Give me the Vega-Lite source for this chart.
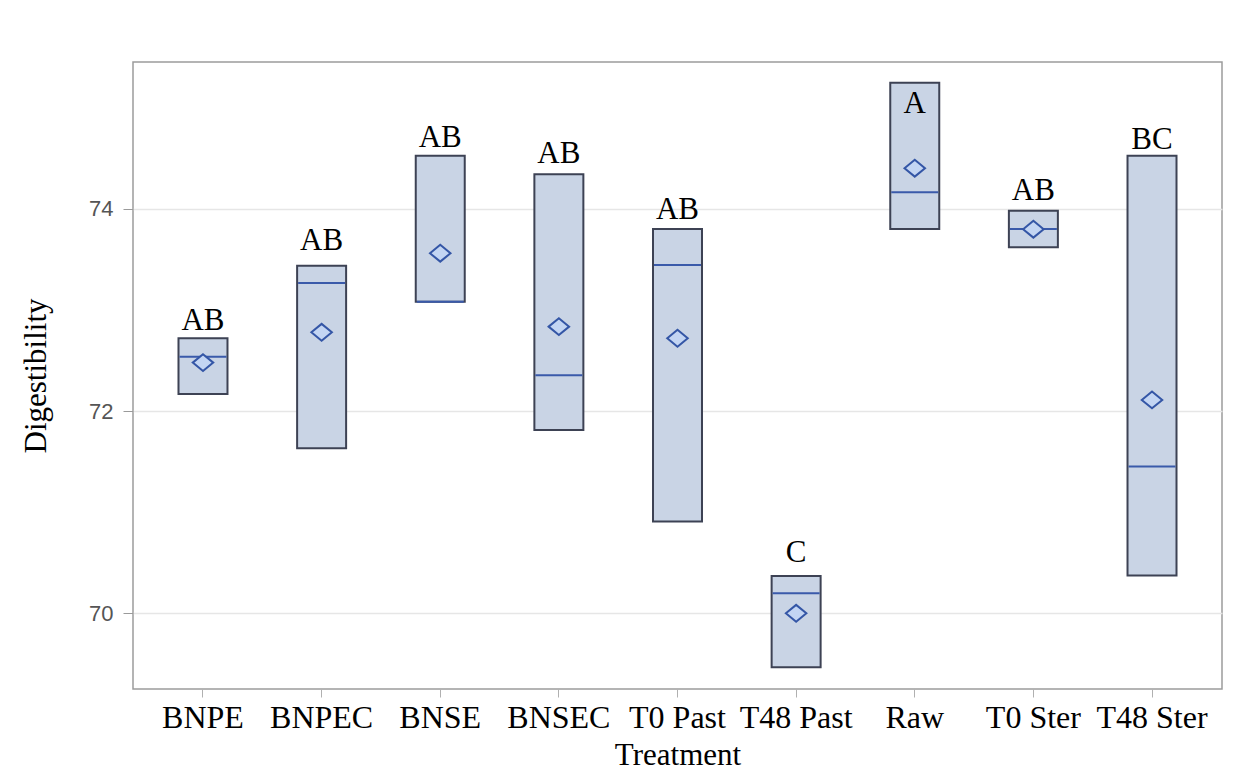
{
  "$schema": "https://vega.github.io/schema/vega-lite/v6.json",
  "width": 1089,
  "height": 627,
  "autosize": {"type": "none"},
  "padding": {"left": 133, "top": 62, "right": 16, "bottom": 94},
  "background": "white",
  "config": {
    "view": {"stroke": "#9c9c9c", "strokeWidth": 1.5},
    "axis": {"domain": false}
  },
  "data": {
    "values": [
      {"Treatment": "BNPE", "low": 72.170, "high": 72.721, "median": 72.539, "mean": 72.480, "letter": "AB", "letterAt": 72.80},
      {"Treatment": "BNPEC", "low": 71.633, "high": 73.439, "median": 73.268, "mean": 72.780, "letter": "AB", "letterAt": 73.594},
      {"Treatment": "BNSE", "low": 73.083, "high": 74.527, "median": 73.083, "mean": 73.562, "letter": "AB", "letterAt": 74.613},
      {"Treatment": "BNSEC", "low": 71.814, "high": 74.343, "median": 72.355, "mean": 72.836, "letter": "AB", "letterAt": 74.455},
      {"Treatment": "T0 Past", "low": 70.907, "high": 73.802, "median": 73.446, "mean": 72.721, "letter": "AB", "letterAt": 73.901},
      {"Treatment": "T48 Past", "low": 69.467, "high": 70.370, "median": 70.199, "mean": 70.0, "letter": "C", "letterAt": 70.508},
      {"Treatment": "Raw", "low": 73.802, "high": 75.249, "median": 74.165, "mean": 74.403, "letter": "A", "letterAt": 74.947},
      {"Treatment": "T0 Ster", "low": 73.621, "high": 73.983, "median": 73.802, "mean": 73.80, "letter": "AB", "letterAt": 74.089},
      {"Treatment": "T48 Ster", "low": 70.373, "high": 74.527, "median": 71.451, "mean": 72.111, "letter": "BC", "letterAt": 74.593}
    ]
  },
  "encoding": {
    "x": {
      "field": "Treatment",
      "type": "nominal",
      "sort": null,
      "scale": {"type": "band", "paddingInner": 0, "paddingOuter": 0.09},
      "axis": {
        "title": "Treatment",
        "labelAngle": 0,
        "labelFont": "Liberation Serif",
        "labelFontSize": 32,
        "labelColor": "#000000",
        "labelPadding": 5,
        "tickColor": "#b0b0b0",
        "tickSize": 8,
        "grid": false,
        "titleFont": "Liberation Serif",
        "titleFontSize": 31,
        "titleFontWeight": "normal",
        "titleColor": "#000000",
        "titlePadding": 7
      }
    }
  },
  "layer": [
    {
      "mark": {"type": "bar", "width": {"band": 0.413}, "fill": "#c9d4e5", "stroke": "#3d4254", "strokeWidth": 2},
      "encoding": {
        "y": {
          "field": "high",
          "type": "quantitative",
          "scale": {"domain": [69.251, 75.454], "nice": false, "zero": false},
          "axis": {
            "title": "Digestibility",
            "values": [70, 72, 74],
            "format": "d",
            "labelFont": "Liberation Sans",
            "labelFontSize": 22,
            "labelColor": "#555555",
            "labelPadding": 10,
            "tickColor": "#9a9a9a",
            "tickSize": 10,
            "grid": true,
            "gridColor": "#e6e6e6",
            "gridWidth": 1.5,
            "titleFont": "Liberation Serif",
            "titleFontSize": 31,
            "titleFontWeight": "normal",
            "titleColor": "#000000",
            "titlePadding": 36
          }
        },
        "y2": {"field": "low"}
      }
    },
    {
      "mark": {"type": "tick", "orient": "horizontal", "size": 47, "thickness": 2, "color": "#3a5aaa", "opacity": 1},
      "encoding": {
        "y": {"field": "median", "type": "quantitative"}
      }
    },
    {
      "mark": {"type": "point", "shape": "M-1,0L0,-0.82L1,0L0,0.82Z", "size": 420, "filled": false, "fill": "#c3d5f3", "fillOpacity": 1, "stroke": "#3456a6", "strokeWidth": 2, "opacity": 1},
      "encoding": {
        "y": {"field": "mean", "type": "quantitative"}
      }
    },
    {
      "mark": {"type": "text", "font": "Liberation Serif", "fontSize": 31, "baseline": "alphabetic", "align": "center", "color": "#000000"},
      "encoding": {
        "y": {"field": "letterAt", "type": "quantitative"},
        "text": {"field": "letter"}
      }
    }
  ]
}
